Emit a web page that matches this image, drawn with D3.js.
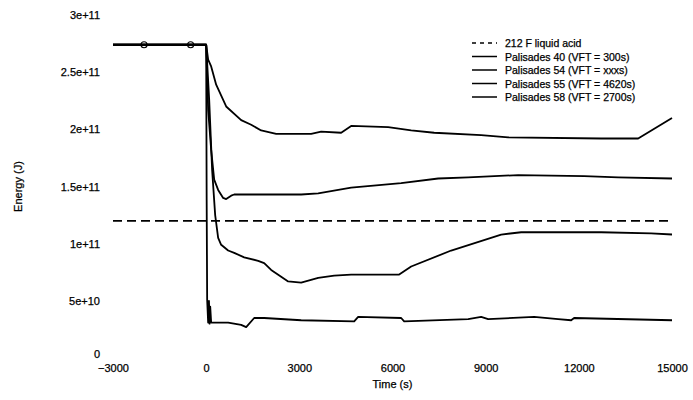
<!DOCTYPE html>
<html>
<head>
<meta charset="utf-8">
<script src="https://cdn.jsdelivr.net/npm/d3@7"></script>
<style>
  html, body { margin: 0; padding: 0; background: #fff; }
  svg text { font-family: "Liberation Sans", Arial, Helvetica, sans-serif; fill: #000; stroke: #000; stroke-width: 0.25px; }
</style>
</head>
<body>
<svg id="chart" width="693" height="400"></svg>
<script>
// Stored energy during the transient: [time (s), energy (J)]
const liquidAcid212F = 1.2e11;

const palisades40 = [
  [-3000, 2.74e11], [0, 2.74e11], [64, 2.61e11], [161, 2.55e11], [322, 2.39e11],
  [644, 2.20e11], [1127, 2.08e11], [1449, 2.04e11], [1771, 1.99e11], [2254, 1.96e11],
  [2995, 1.96e11], [3381, 1.96e11], [3703, 1.98e11], [4347, 1.97e11], [4669, 2.03e11],
  [5860, 2.02e11], [6601, 1.99e11], [7342, 1.97e11], [8855, 1.95e11], [9724, 1.93e11],
  [12719, 1.92e11], [13685, 1.92e11], [13910, 1.92e11], [15000, 2.10e11]
];

const palisades54 = [
  [-3000, 2.74e11], [0, 2.74e11], [64, 2.17e11], [161, 1.82e11], [258, 1.56e11],
  [386, 1.47e11], [547, 1.40e11], [644, 1.39e11], [805, 1.42e11], [902, 1.43e11],
  [1868, 1.43e11], [2512, 1.43e11], [3059, 1.43e11], [3607, 1.44e11], [4669, 1.49e11],
  [6279, 1.53e11], [7471, 1.57e11], [8437, 1.58e11], [10047, 1.60e11], [12172, 1.59e11],
  [13267, 1.58e11], [15000, 1.57e11]
];

const palisades55 = [
  [-3000, 2.74e11], [0, 2.74e11], [97, 2.26e11], [193, 1.64e11], [290, 1.25e11],
  [386, 1.05e11], [483, 9.9e10], [708, 9.4e10], [902, 9.2e10], [1224, 8.8e10],
  [1674, 8.5e10], [1868, 8.3e10], [2093, 7.7e10], [2415, 7.1e10], [2640, 6.7e10],
  [3059, 6.6e10], [3607, 7.0e10], [4122, 7.2e10], [4669, 7.3e10], [5217, 7.3e10],
  [6215, 7.3e10], [6601, 8.0e10], [7889, 9.4e10], [9499, 1.08e11], [10143, 1.10e11],
  [12719, 1.10e11], [14329, 1.09e11], [15000, 1.08e11]
];

const palisades58 = [
  [-3000, 2.74e11], [0, 2.74e11], [16, 1.38e11], [32, 5.1e10], [64, 3.1e10],
  [90, 5.0e10], [110, 3.0e10], [130, 4.5e10], [161, 3.1e10], [708, 3.1e10],
  [1127, 2.9e10], [1288, 2.7e10], [1546, 3.5e10], [1868, 3.5e10], [3059, 3.3e10],
  [4766, 3.2e10], [4894, 3.6e10], [6279, 3.5e10], [6376, 3.2e10], [8437, 3.4e10],
  [8855, 3.6e10], [9080, 3.4e10], [10561, 3.6e10], [11334, 3.4e10], [11752, 3.3e10],
  [11849, 3.5e10], [15000, 3.3e10]
];

// Symbols sitting on the initial steady-state level
const initialMarkers = [[-2000, 2.74e11], [-500, 2.74e11]];

const legendLabels = [
  "212 F liquid acid",
  "Palisades 40 (VFT = 300s)",
  "Palisades 54 (VFT = xxxs)",
  "Palisades 55 (VFT = 4620s)",
  "Palisades 58 (VFT = 2700s)"
];

const xTicks = [-3000, 0, 3000, 6000, 9000, 12000, 15000];
const yTicks = [0, 5e10, 1e11, 1.5e11, 2e11, 2.5e11, 3e11];
const yTickLabels = ["0", "5e+10", "1e+11", "1.5e+11", "2e+11", "2.5e+11", "3e+11"];

const svg = d3.select("#chart");

const x = d3.scaleLinear().domain([-3000, 15000]).range([113, 672]);
const y = d3.scaleLinear().domain([0, 3e11]).range([358, 15]);

// Axes: labels only, no spine or tick marks
const yAxis = d3.axisLeft(y).tickValues(yTicks)
  .tickFormat((d, i) => yTickLabels[i]).tickSize(0).tickPadding(13);
const gy = svg.append("g").attr("transform", `translate(${x.range()[0]},0)`).call(yAxis);
gy.select(".domain").remove();
gy.selectAll("text").attr("font-size", 11).attr("font-family", null);
// the zero label sits just above the first time label
gy.selectAll(".tick").filter(d => d === 0).select("text").attr("dy", "-0.05em");

const xAxis = d3.axisBottom(x).tickValues(xTicks).tickFormat(d3.format("d"))
  .tickSize(0).tickPadding(6);
const gx = svg.append("g").attr("transform", `translate(0,${y.range()[0]})`).call(xAxis);
gx.select(".domain").remove();
gx.selectAll("text").attr("font-size", 11).attr("font-family", null);

svg.append("text")
  .attr("x", (x.range()[0] + x.range()[1]) / 2).attr("y", 388)
  .attr("text-anchor", "middle").attr("font-size", 11)
  .text("Time (s)");

svg.append("text")
  .attr("transform", `translate(22,${y(1.5e11)}) rotate(-90)`)
  .attr("text-anchor", "middle").attr("font-size", 11)
  .text("Energy (J)");

// Reference level
svg.append("line")
  .attr("x1", x(-3000)).attr("x2", x(15000))
  .attr("y1", y(liquidAcid212F)).attr("y2", y(liquidAcid212F))
  .attr("stroke", "#000").attr("stroke-width", 1.7)
  .attr("stroke-dasharray", "9,5");

const line = d3.line().x(d => x(d[0])).y(d => y(d[1]));
const series = [palisades40, palisades54, palisades55, palisades58];

svg.append("g").selectAll("path").data(series).join("path")
  .attr("d", line)
  .attr("fill", "none")
  .attr("stroke", "#000")
  .attr("stroke-width", 1.8)
  .attr("stroke-linejoin", "round");

svg.append("g").selectAll("circle").data(initialMarkers).join("circle")
  .attr("cx", d => x(d[0])).attr("cy", d => y(d[1]))
  .attr("r", 3).attr("fill", "none").attr("stroke", "#000").attr("stroke-width", 1.2);

// Legend
const legend = svg.append("g").attr("transform", "translate(472,43)");
const rows = legend.selectAll("g").data(legendLabels).join("g")
  .attr("transform", (d, i) => `translate(0,${i * 13.5})`);
rows.append("line")
  .attr("x1", 0).attr("x2", 25).attr("y1", 0).attr("y2", 0)
  .attr("stroke", "#000").attr("stroke-width", 1.5)
  .attr("stroke-dasharray", (d, i) => i === 0 ? "4,4" : null);
rows.append("text")
  .attr("x", 33).attr("y", 4)
  .attr("font-size", 10.5)
  .text(d => d);
</script>
</body>
</html>
